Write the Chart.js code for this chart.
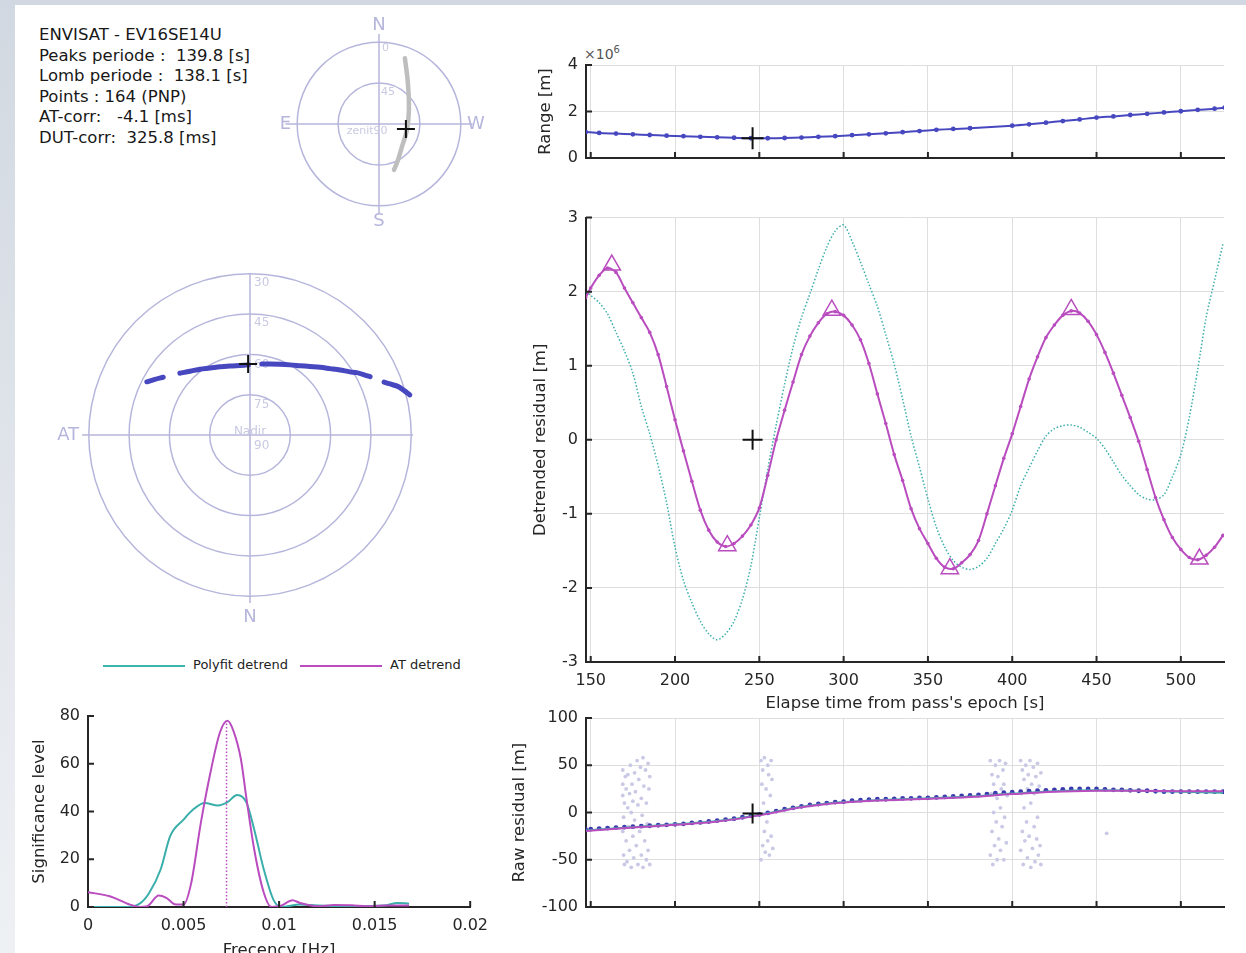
<!DOCTYPE html>
<html>
<head>
<meta charset="utf-8">
<script src="https://cdn.jsdelivr.net/npm/chart.js@4.4.1/dist/chart.umd.min.js"></script>
<style>
  html, body { margin: 0; padding: 0; }
  body { width: 1246px; height: 953px; overflow: hidden; position: relative;
         background: linear-gradient(#d2d8e1, #eef1f4); font-family: "DejaVu Sans", sans-serif; }
  #sheet { position: absolute; left: 15px; top: 5px; right: 0; bottom: 0; background: #fff; }
  canvas { position: absolute; }
  #info { position: absolute; left: 39px; top: 25px; font-size: 16.5px; line-height: 20.6px;
          color: #181818; white-space: pre; }
  #expo { position: absolute; left: 584px; top: 44px; font-size: 14px; color: #555; }
  #expo sup { font-size: 10px; }
  .legLine { position: absolute; height: 2px; top: 665px; width: 82px; }
  .legText { position: absolute; top: 657px; font-size: 13px; color: #222; }
</style>
</head>
<body>
<div id="sheet"></div>
<div id="info">ENVISAT - EV16SE14U
Peaks periode :  139.8 [s]
Lomb periode :  138.1 [s]
Points : 164 (PNP)
AT-corr:   -4.1 [ms]
DUT-corr:  325.8 [ms]</div>
<div id="expo">×10<sup>6</sup></div>
<div class="legLine" style="left:103px;background:#3cb6aa"></div>
<div class="legText" style="left:193px">Polyfit detrend</div>
<div class="legLine" style="left:300px;background:#b94cbf"></div>
<div class="legText" style="left:390px">AT detrend</div>

<canvas id="skyPolar" width="240" height="240" style="left:259px;top:4px"></canvas>
<canvas id="atPolar" width="400" height="400" style="left:50px;top:235px"></canvas>
<canvas id="rangeChart" width="730" height="140" style="left:500px;top:40px"></canvas>
<canvas id="detrendChart" width="730" height="525" style="left:500px;top:200px"></canvas>
<canvas id="rawChart" width="730" height="240" style="left:500px;top:700px"></canvas>
<canvas id="sigChart" width="497" height="272" style="left:0px;top:690px"></canvas>

<script>
// ---- data ----
const timeTicks = [150, 200, 250, 300, 350, 400, 450, 500];
const rangeTicks = [0, 2, 4];
const detTicks = [-3, -2, -1, 0, 1, 2, 3];
const rawTicks = [-100, -50, 0, 50, 100];
const freqTicks = [0, 0.005, 0.01, 0.015, 0.02];
const sigTicks = [0, 20, 40, 60, 80];

const T = [147, 150, 155, 160, 165, 170, 175, 180, 185, 190,
           195, 200, 205, 210, 215, 220, 225, 230, 235, 240,
           245, 250, 255, 260, 265, 270, 275, 280, 285, 290,
           295, 300, 305, 310, 315, 320, 325, 330, 335, 340,
           345, 350, 355, 360, 365, 370, 375, 380, 385, 390,
           395, 400, 405, 410, 415, 420, 425, 430, 435, 440,
           445, 450, 455, 460, 465, 470, 475, 480, 485, 490,
           495, 500, 505, 510, 515, 520, 525];

const atDetrend = [1.92, 2.05, 2.22, 2.32, 2.26, 2.05, 1.85, 1.65, 1.45, 1.15,
                   0.72, 0.27, -0.15, -0.56, -0.95, -1.22, -1.38, -1.44, -1.4, -1.3,
                   -1.15, -0.92, -0.48, 0.0, 0.4, 0.78, 1.15, 1.4, 1.58, 1.7,
                   1.73, 1.68, 1.55, 1.35, 1.03, 0.62, 0.22, -0.2, -0.55, -0.93,
                   -1.2, -1.4, -1.6, -1.72, -1.74, -1.66, -1.55, -1.36, -1.0, -0.62,
                   -0.25, 0.08, 0.45, 0.82, 1.12, 1.38, 1.55, 1.68, 1.74, 1.71,
                   1.6, 1.42, 1.18, 0.9, 0.6, 0.3, -0.02, -0.4, -0.78, -1.08,
                   -1.32, -1.48, -1.59, -1.62, -1.56, -1.45, -1.29];

const polyDetrend = [2.0, 1.95, 1.85, 1.7, 1.45, 1.2, 0.9, 0.45, 0.08, -0.35,
                     -0.85, -1.45, -1.9, -2.2, -2.45, -2.62, -2.7, -2.62, -2.45, -2.15,
                     -1.7, -1.05, -0.4, 0.2, 0.75, 1.25, 1.65, 1.97, 2.3, 2.6,
                     2.82, 2.9, 2.68, 2.4, 2.1, 1.8, 1.42, 1.02, 0.55, 0.05,
                     -0.37, -0.8, -1.18, -1.45, -1.63, -1.72, -1.75, -1.71, -1.6, -1.4,
                     -1.2, -0.95, -0.62, -0.38, -0.15, 0.05, 0.15, 0.19, 0.2, 0.17,
                     0.1, 0.02, -0.12, -0.3, -0.48, -0.62, -0.74, -0.8, -0.81, -0.74,
                     -0.5, -0.2, 0.3, 0.95, 1.65, 2.15, 2.65];

const peakT = [162.5, 231, 293, 363, 435, 511];
const peakV = [2.36, -1.43, 1.75, -1.74, 1.76, -1.61];

const rawResidual = [-18, -17.5, -17, -16.5, -16, -15.5, -15, -14.5, -14, -13.5,
                     -13, -12.5, -12, -11, -10.5, -9.5, -8.5, -7.5, -6.5, -5,
                     -3.5, -2, -0.5, 1.5, 3.5, 5, 6.5, 8, 9, 10,
                     11, 11.5, 12.5, 13, 13.5, 14, 14, 14.5, 15, 15,
                     15.5, 15.5, 16, 16.5, 17, 17.5, 18, 18.5, 19.5, 20.5,
                     21, 21.5, 22, 22.5, 23, 23.5, 24, 24.5, 25, 25,
                     25, 25, 24.5, 24, 24, 23.5, 23, 23, 22.5, 22,
                     22, 22, 22, 22, 22, 22, 22];

const fitT = [147, 175, 200, 225, 250, 275, 300, 325, 350, 375, 400, 425, 450, 475, 500, 525];
const polyRaw = [-19, -15.5, -12.5, -9, -2.5, 6, 11, 13.5, 15, 17, 20, 22.5, 23.5, 23, 22, 21];
const atRaw = [-19.5, -16, -13, -9.5, -3, 5.5, 10.5, 13, 14.5, 16.5, 19.5, 22, 23, 23, 22.5, 22.5];

// rejected points (time, residual)
const rejected = [
  [169,45],[169,30],[169,18],[169.5,-5],[169,-20],[169.5,-45],[170,-55],[170,10],[170.5,38],[171,-30],
  [171,25],[171.5,-52],[172,5],[172,40],[172.5,-15],[173,20],[173,-40],[173.5,50],[174,-58],[174,0],
  [174.5,30],[175,-25],[175,12],[175.5,-48],[176,42],[176,-8],[176.5,22],[177,-35],[177.5,55],[178,-55],
  [178,8],[178.5,35],[179,-20],[179.5,48],[180,-45],[180,15],[180.5,-3],[181,58],[181,-58],[181.5,28],
  [182,-30],[182.5,45],[183,-50],[183,10],[183.5,-12],[184,52],[184,-40],[184.5,25],[185,-55],[185,38],
  [251,55],[251,-50],[251.5,30],[252,-35],[252,45],[252.5,10],[253,-20],[253,58],[253.5,-42],[254,25],
  [254.5,-10],[255,50],[255,-30],[255.5,40],[256,-45],[256.5,18],[257,55],[257,-25],[257.5,35],[258,-38],
  [387,55],[387,-45],[387.5,20],[388,-20],[388,40],[388.5,-55],[389,0],[389,30],[389.5,-35],[390,50],
  [390.5,-10],[391,15],[391,-50],[391.5,38],[392,-28],[392.5,55],[393,-40],[393,5],[393.5,25],[394,-15],
  [394.5,45],[395,-50],[395,30],[395.5,-5],[396,52],[396.5,-32],[397,18],
  [405,55],[405,-40],[405.5,20],[406,-20],[406,45],[406.5,-55],[407,5],[407,35],[407.5,-30],[408,50],
  [408.5,-10],[409,25],[409,-48],[409.5,40],[410,-25],[410.5,55],[411,-58],[411,10],[411.5,30],[412,-38],
  [412.5,48],[413,-15],[413,20],[413.5,-52],[414,38],[414.5,-28],[415,52],[415,-5],[415.5,-45],[416,28],
  [416.5,-35],[417,42],[417,-55],
  [456,-22]
];

const rangeT = [147, 155, 165, 175, 185, 195, 205, 215, 225, 235,
                245, 255, 265, 275, 285, 295, 305, 315, 325, 335,
                345, 355, 365, 375, 400, 410, 420, 430, 440, 450,
                460, 470, 480, 490, 500, 510, 520, 526];
const rangeE6 = [1.12, 1.08, 1.05, 1.02, 0.99, 0.96, 0.94, 0.91, 0.89, 0.87,
                 0.85, 0.85, 0.86, 0.88, 0.91, 0.94, 0.98, 1.02, 1.06, 1.11,
                 1.16, 1.21, 1.25, 1.28, 1.39, 1.45, 1.52, 1.59, 1.66, 1.74,
                 1.79, 1.85, 1.9, 1.96, 2.01, 2.07, 2.12, 2.17];

const sigAtF = [0, 0.00114, 0.0022, 0.0027, 0.0031, 0.0037, 0.0041, 0.0046, 0.005, 0.0054,
                0.0059, 0.0064, 0.0069, 0.0073, 0.0076, 0.008, 0.0083, 0.0087, 0.0092, 0.0096,
                0.0101, 0.0107, 0.0111, 0.012, 0.0129, 0.0138, 0.0146, 0.0155, 0.0168];
const sigAtV = [6.2, 4.5, 1.0, 0, 0.3, 4.8, 3.8, 1.0, 1.0, 10,
                35, 56, 73, 78, 74, 62, 45, 24, 6, 0,
                0.5, 2.8, 1.7, 0.3, 0.8, 0.7, 0.3, 0.6, 0.6];
const sigPolyF = [0, 0.002, 0.0027, 0.0032, 0.0038, 0.0043, 0.005, 0.0055, 0.0061, 0.0068,
                  0.0073, 0.0078, 0.0083, 0.0087, 0.0092, 0.0097, 0.0101, 0.0111, 0.012, 0.0138,
                  0.0155, 0.0162, 0.0168];
const sigPolyV = [0, 0, 1.4, 5.9, 15.7, 29.7, 36.6, 40.8, 43.6, 42.5,
                  43.9, 46.9, 43.6, 32.4, 15.7, 3.1, 0, 1, 0.6, 0.3,
                  0.6, 1.7, 1.4];
const lombPeakF = 0.00725;
const lombPeakV = 78;

// sky track (projection in degrees from zenith, x to W, y to N)
const trackX = [28.5, 31.8, 32.9, 30.7, 25.2, 20.9, 16.5];
const trackY = [72.4, 45, 15.4, -6.6, -25.2, -39.5, -50.5];
// along-track view (degrees from nadir); null = gap in the pass
const arcX = [-38.4, -35.4, -32.3, -29, -26.1, -22.3, -18.6, -14.9, -11.2, -7.4,
              -3.7, -0.6, 2, 4.4, 7.4, 11.2, 14.9, 18.6, 22.3, 26.1,
              29.8, 33.5, 37.2, 39.7, 42.8, 44.7, 47, 49.9, 52.1, 55.2,
              57.3, 59.5];
const arcY = [19.8, 20.7, 21.5, null, 23.0, 23.7, 24.5, 24.9, 25.4, 25.7,
              25.9, 26.1, null, 26.4, 26.4, 26.3, 26.1, 25.8, 25.5, 25.2,
              24.7, 24.2, 23.5, 23.2, 22.3, 21.7, null, 19.7, 19.0, 18.0,
              16.6, 14.9];
const epochT = 246;

// ---- colours ----
const MAG = '#b94cbf';
const TEAL = '#3aaeaa';
const BLUE = '#4747c0';
const INK = '#262626';
const POLAR = '#b6b6dc';
const POLAR_TXT = '#c9c9e2';

Chart.defaults.font.family = '"DejaVu Sans", sans-serif';
Chart.defaults.font.size = 16;
Chart.defaults.color = INK;
Chart.defaults.animation = false;
Chart.defaults.responsive = false;
Chart.defaults.layout.autoPadding = false;
Chart.defaults.plugins.legend.display = false;
Chart.defaults.plugins.tooltip.enabled = false;

const pts = (xs, ys) => xs.map((x, i) => ({ x: x, y: ys[i] }));
const fixTicks = vals => s => { s.ticks = vals.map(v => ({ value: v })); };

// inward tick marks like the original plotting tool
const innerTicks = {
  id: 'innerTicks',
  afterDraw(chart, args, o) {
    if (!o.on) return;
    const { ctx, chartArea: a } = chart;
    const sx = chart.scales.x, sy = chart.scales.y;
    ctx.save();
    ctx.strokeStyle = INK;
    ctx.lineWidth = 2;
    ctx.beginPath();
    sx.ticks.forEach(t => {
      const px = sx.getPixelForValue(t.value);
      ctx.moveTo(px, a.bottom); ctx.lineTo(px, a.bottom - 6);
    });
    sy.ticks.forEach(t => {
      const py = sy.getPixelForValue(t.value);
      ctx.moveTo(a.left, py); ctx.lineTo(a.left + 6, py);
    });
    ctx.stroke();
    ctx.restore();
  }
};

const polarGrid = {
  id: 'polarGrid',
  beforeDatasetsDraw(chart, args, o) {
    if (!o.rings) return;
    const ctx = chart.ctx;
    const sx = chart.scales.x, sy = chart.scales.y;
    const cx = sx.getPixelForValue(0), cy = sy.getPixelForValue(0);
    const k = sx.getPixelForValue(1) - cx;
    ctx.save();
    ctx.strokeStyle = POLAR;
    ctx.lineWidth = 1.5;
    o.rings.forEach(r => {
      ctx.beginPath(); ctx.arc(cx, cy, r * k, 0, Math.PI * 2); ctx.stroke();
    });
    ctx.beginPath();
    ctx.moveTo(sx.getPixelForValue(o.hLine[0]), cy); ctx.lineTo(sx.getPixelForValue(o.hLine[1]), cy);
    ctx.moveTo(cx, sy.getPixelForValue(o.vLine[0])); ctx.lineTo(cx, sy.getPixelForValue(o.vLine[1]));
    ctx.stroke();
    ctx.textBaseline = 'middle';
    o.labels.forEach(l => {
      ctx.font = l.size + 'px "DejaVu Sans"';
      ctx.fillStyle = l.size > 14 ? POLAR : POLAR_TXT;
      ctx.textAlign = l.align || 'center';
      ctx.fillText(l.text, sx.getPixelForValue(l.x), sy.getPixelForValue(l.y));
    });
    ctx.restore();
  }
};

Chart.register(innerTicks, polarGrid);

function panel(p) {
  return {
    layout: { padding: { left: p.padL, top: p.padT, right: p.padR, bottom: 0 } },
    plugins: { innerTicks: { on: true } },
    scales: {
      x: {
        type: 'linear', min: p.xMin, max: p.xMax,
        afterBuildTicks: fixTicks(p.xTicks),
        afterFit: s => { s.height = p.xH; },
        grid: { display: p.grid, color: '#dedede', drawTicks: false },
        border: { color: INK, width: 2 },
        ticks: { display: p.xLabels, padding: 9, autoSkip: false, maxRotation: 0, callback: v => String(v) },
        title: { display: !!p.xTitle, text: p.xTitle || '', font: { size: 16.5 },
                 padding: { top: 0, bottom: p.xTitlePad || 0 } }
      },
      y: {
        type: 'linear', min: p.yMin, max: p.yMax,
        afterBuildTicks: fixTicks(p.yTicks),
        afterFit: s => { s.width = p.yW; },
        grid: { display: p.grid, color: '#dedede', drawTicks: false },
        border: { color: INK, width: 2 },
        ticks: { padding: 8, autoSkip: false, callback: v => String(v) },
        title: { display: true, text: p.yTitle, font: { size: 16.5 }, padding: { top: p.yTitlePad, bottom: 0 } }
      }
    }
  };
}

const crossAt = (x, y, r) => ({
  data: [{ x: x, y: y }], pointStyle: 'cross', pointRadius: r,
  borderColor: '#111', borderWidth: 2, showLine: false
});

// range panel
new Chart(document.getElementById('rangeChart'), {
  type: 'scatter',
  data: {
    datasets: [
      crossAt(epochT, 0.85, 11),
      { data: pts(rangeT, rangeE6), showLine: true, borderColor: BLUE, borderWidth: 2,
        pointRadius: 2.4, pointBackgroundColor: BLUE, pointBorderWidth: 0, tension: 0.3 }
    ]
  },
  options: panel({ padL: 30, padT: 25, padR: 6, yW: 56, xH: 22, xMin: 147.2, xMax: 525.6,
                   xTicks: timeTicks, yMin: 0, yMax: 4, yTicks: rangeTicks, grid: true,
                   xLabels: false, yTitle: 'Range [m]', yTitlePad: 6 })
});

// detrended residual panel
new Chart(document.getElementById('detrendChart'), {
  type: 'scatter',
  data: {
    datasets: [
      crossAt(epochT, 0, 10),
      { data: pts(peakT, peakV), showLine: false, pointStyle: 'triangle', pointRadius: 10,
        borderColor: MAG, borderWidth: 1.5, backgroundColor: 'rgba(0,0,0,0)' },
      { data: pts(T, atDetrend), showLine: true, borderColor: MAG, borderWidth: 2,
        pointRadius: 1.8, pointBackgroundColor: MAG, pointBorderWidth: 0, tension: 0.3 },
      { data: pts(T, polyDetrend), showLine: true, borderColor: TEAL, borderWidth: 1.5,
        borderDash: [1.5, 2], pointRadius: 0, tension: 0.3 }
    ]
  },
  options: panel({ padL: 30, padT: 16, padR: 6, yW: 56, xH: 63, xMin: 147.2, xMax: 525.6,
                   xTicks: timeTicks, yMin: -3, yMax: 3, yTicks: detTicks, grid: true,
                   xLabels: true, xTitle: "Elapse time from pass's epoch [s]", xTitlePad: 11,
                   yTitle: 'Detrended residual [m]', yTitlePad: 1 })
});

// raw residual panel
new Chart(document.getElementById('rawChart'), {
  type: 'scatter',
  data: {
    datasets: [
      crossAt(epochT, -1, 10),
      { data: pts(fitT, atRaw), showLine: true, borderColor: MAG, borderWidth: 2, pointRadius: 0, tension: 0.4 },
      { data: pts(fitT, polyRaw), showLine: true, borderColor: TEAL, borderWidth: 2, pointRadius: 0, tension: 0.4 },
      { data: pts(T, rawResidual), showLine: false, pointRadius: 2.4, pointBorderWidth: 0,
        pointBackgroundColor: '#3a3aae' },
      { data: rejected.map(p => ({ x: p[0], y: p[1] })), showLine: false, pointRadius: 1.9,
        pointBorderWidth: 0, pointBackgroundColor: '#c9c9e5' }
    ]
  },
  options: panel({ padL: 10, padT: 18, padR: 6, yW: 76, xH: 33, xMin: 147.2, xMax: 525.6,
                   xTicks: timeTicks, yMin: -100, yMax: 100, yTicks: rawTicks, grid: true,
                   xLabels: false, yTitle: 'Raw residual [m]', yTitlePad: 0 })
});

// Lomb periodogram
new Chart(document.getElementById('sigChart'), {
  type: 'scatter',
  data: {
    datasets: [
      { data: [{ x: lombPeakF, y: 0 }, { x: lombPeakF, y: lombPeakV }], showLine: true,
        borderColor: MAG, borderWidth: 1.5, borderDash: [1.5, 2], pointRadius: 0 },
      { data: pts(sigAtF, sigAtV), showLine: true, borderColor: MAG, borderWidth: 2,
        pointRadius: 0, cubicInterpolationMode: 'monotone' },
      { data: pts(sigPolyF, sigPolyV), showLine: true, borderColor: TEAL, borderWidth: 2,
        pointRadius: 0, cubicInterpolationMode: 'monotone' }
    ]
  },
  options: panel({ padL: 26, padT: 26, padR: 20, yW: 62, xH: 55, xMin: 0, xMax: 0.02,
                   xTicks: freqTicks, yMin: 0, yMax: 80, yTicks: sigTicks, grid: false,
                   xLabels: true, xTitle: 'Frecency [Hz]', xTitlePad: 1,
                   yTitle: 'Significance level', yTitlePad: 4 })
});

function polarOpts(lim, grid) {
  return {
    layout: { padding: 0 },
    plugins: { polarGrid: grid },
    scales: {
      x: { type: 'linear', min: -lim, max: lim, display: false },
      y: { type: 'linear', min: -lim, max: lim, display: false }
    }
  };
}

// sky plot (N up, E left)
new Chart(document.getElementById('skyPolar'), {
  type: 'scatter',
  data: {
    datasets: [
      crossAt(29.6, -5.5, 9),
      { data: pts(trackX, trackY), showLine: true, borderColor: '#bebebe', borderWidth: 4.5,
        borderCapStyle: 'round', pointRadius: 0, tension: 0.4 }
    ]
  },
  options: polarOpts(132, {
    rings: [45, 90], hLine: [-103, 103], vLine: [99, -98],
    labels: [
      { text: 'N', x: 0, y: 108.7, size: 18 },
      { text: 'S', x: 0, y: -107.6, size: 18 },
      { text: 'E', x: -103, y: 0, size: 18 },
      { text: 'W', x: 106.5, y: 0, size: 18 },
      { text: '0', x: 3.3, y: 83, size: 11, align: 'left' },
      { text: '45', x: 2.2, y: 35, size: 11, align: 'left' },
      { text: 'zenit90', x: -13, y: -8, size: 11 }
    ]
  })
});

// along-track view from the station
new Chart(document.getElementById('atPolar'), {
  type: 'scatter',
  data: {
    datasets: [
      crossAt(-0.7, 26.4, 9),
      { data: pts(arcX, arcY), showLine: true, borderColor: BLUE, borderWidth: 5,
        borderCapStyle: 'round', pointRadius: 0, spanGaps: false, tension: 0.3 }
    ]
  },
  options: polarOpts(74.44, {
    rings: [15, 30, 45, 60], hLine: [-62.5, 60.7], vLine: [60, -62.5],
    labels: [
      { text: 'AT', x: -67.7, y: 0, size: 18 },
      { text: 'N', x: 0, y: -67.7, size: 18 },
      { text: '30', x: 1.5, y: 56.6, size: 12, align: 'left' },
      { text: '45', x: 1.5, y: 41.7, size: 12, align: 'left' },
      { text: '60', x: 1.5, y: 26, size: 12, align: 'left' },
      { text: '75', x: 1.5, y: 11.2, size: 12, align: 'left' },
      { text: 'Nadir', x: 0, y: 1.1, size: 12 },
      { text: '90', x: 1.5, y: -4.1, size: 12, align: 'left' }
    ]
  })
});
</script>
</body>
</html>
